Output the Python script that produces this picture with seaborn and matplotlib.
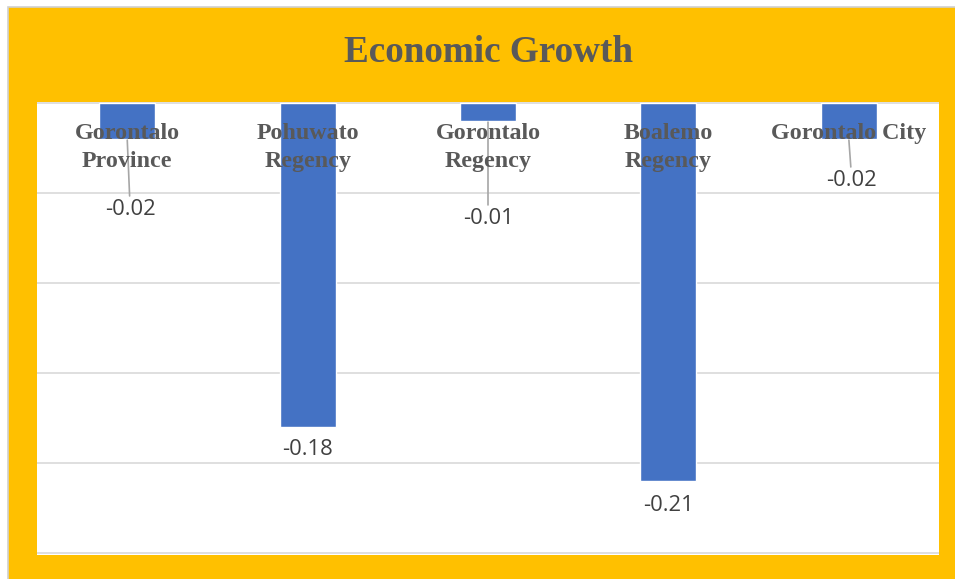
import matplotlib
matplotlib.use("Agg")
import matplotlib.pyplot as plt
from matplotlib.patches import Rectangle
import pandas as pd
import seaborn as sns

# chart data
regions = ["Gorontalo\nProvince", "Pohuwato\nRegency", "Gorontalo\nRegency",
           "Boalemo\nRegency", "Gorontalo City"]
growth = [-0.02, -0.18, -0.01, -0.21, -0.02]
value_labels = ["-0.02", "-0.18", "-0.01", "-0.21", "-0.02"]

# label placement (pixels from the bar end) and whether a leader line is drawn
label_offsets = [(3, -71), (0, -23), (0, -98), (0, -25), (3, -42)]
leaders = [True, False, True, False, True]

df = pd.DataFrame({"region": regions, "growth": growth})

sns.set_style("white")
plt.rcParams["font.family"] = ["DejaVu Sans"]

W, H = 955, 579
fig = plt.figure(figsize=(W / 100, H / 100), dpi=100)
fig.patch.set_facecolor("white")

# gold chart background with a thin grey outline (behind the axes)
fig.patches.append(Rectangle((8 / W, -0.01), 1.0, 1 - 7 / H + 0.01,
                             transform=fig.transFigure, facecolor="#FFC000",
                             edgecolor="#D0D0D0", linewidth=1.2, zorder=-1))

ax = fig.add_axes([37 / W, (H - 555) / H, (939 - 37) / W, (555 - 102) / H])
ax.set_facecolor("white")

sns.barplot(data=df, x="region", y="growth", color="#4472C4", width=0.31,
            saturation=1, ax=ax, zorder=3)

ax.set_ylim(-0.2512, 0.0004)
ax.set_xlim(-0.5, len(regions) - 0.5)
ax.set_yticks([0, -0.05, -0.10, -0.15, -0.20, -0.25])
ax.yaxis.grid(True, color="#D9D9D9", linewidth=1.2, zorder=0)
ax.set_axisbelow(True)
ax.tick_params(left=False, bottom=False, labelleft=False, labelbottom=False)
ax.set_xlabel("")
ax.set_ylabel("")
for s in ax.spines.values():
    s.set_visible(False)

# category names written across the top of the plot area
for i, name in enumerate(regions):
    for j, line in enumerate(name.split("\n")):
        ax.annotate(line, xy=(i, 1), xycoords=("data", "axes fraction"),
                    xytext=(0, -37 - 28 * j), textcoords="offset pixels",
                    ha="center", va="baseline", fontsize=17.3,
                    fontweight="bold", family=["Liberation Serif"],
                    color="#595959", zorder=5)

# value labels under the bars
for i, (v, lab) in enumerate(zip(growth, value_labels)):
    dx, dy = label_offsets[i]
    arrow = None
    if leaders[i]:
        arrow = dict(arrowstyle="-", color="#A6A6A6", lw=1.2,
                     shrinkA=0, shrinkB=1)
    ax.annotate(lab, xy=(i, v), xytext=(dx, dy), textcoords="offset pixels",
                ha="center", va="center", fontsize=15.8,
                family=["Open Sans"], color="#404040",
                arrowprops=arrow, zorder=4)

fig.text(488 / W, 1 - 62 / H, "Economic Growth", ha="center", va="baseline",
         fontsize=26.7, fontweight="bold", family=["Liberation Serif"],
         color="#595959")

fig.savefig("out.png", dpi=100)
